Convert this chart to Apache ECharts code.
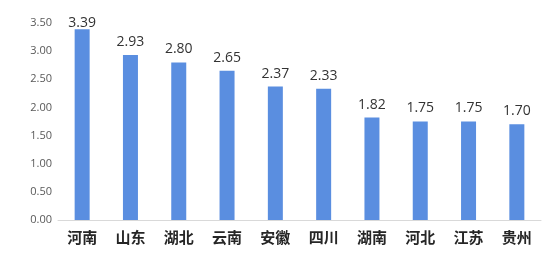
<!DOCTYPE html>
<html>
<head>
<meta charset="utf-8">
<script src="https://cdn.jsdelivr.net/npm/echarts@6/dist/echarts.min.js"></script>
<style>
  html, body { margin: 0; padding: 0; background: #fff; }
  #chart { width: 551px; height: 263px; }
</style>
</head>
<body>
<div id="chart"></div>
<script>
// Provinces and their values
const provinces = ['河南', '山东', '湖北', '云南', '安徽', '四川', '湖南', '河北', '江苏', '贵州'];
const values = [3.39, 2.93, 2.80, 2.65, 2.37, 2.33, 1.82, 1.75, 1.75, 1.70];
const yTicks = { min: 0, max: 3.5, interval: 0.5 };

// The tallest bar's label sits tight against the top of the plot, so it hugs its bar
const barData = values.map((v, i) => i === 0 ? { value: v, label: { distance: -1 } } : v);

const chart = echarts.init(document.getElementById('chart'), null, { renderer: 'canvas' });
chart.setOption({
  animation: false,
  backgroundColor: '#ffffff',
  grid: { left: 58, right: 10, top: 23, bottom: 43, containLabel: false },
  xAxis: {
    type: 'category',
    data: provinces,
    axisLine: { show: true, lineStyle: { color: '#d9d9d9', width: 1 } },
    axisTick: { show: false },
    axisLabel: {
      color: '#262626',
      fontSize: 15,
      fontWeight: 'bold',
      fontFamily: '"Noto Sans CJK SC", sans-serif',
      margin: 10
    }
  },
  yAxis: {
    type: 'value',
    min: yTicks.min,
    max: yTicks.max,
    interval: yTicks.interval,
    splitLine: { show: false },
    axisLine: { show: false },
    axisTick: { show: false },
    axisLabel: {
      color: '#595959',
      fontSize: 11,
      fontFamily: '"Open Sans", sans-serif',
      margin: 6,
      formatter: v => v.toFixed(2)
    }
  },
  series: [{
    type: 'bar',
    data: barData,
    barWidth: 15,
    itemStyle: { color: '#5a8ee0' },
    label: {
      show: true,
      position: 'top',
      distance: 6,
      color: '#333333',
      fontSize: 14,
      fontFamily: '"Open Sans", sans-serif',
      formatter: p => p.value.toFixed(2)
    }
  }]
});
</script>
</body>
</html>
